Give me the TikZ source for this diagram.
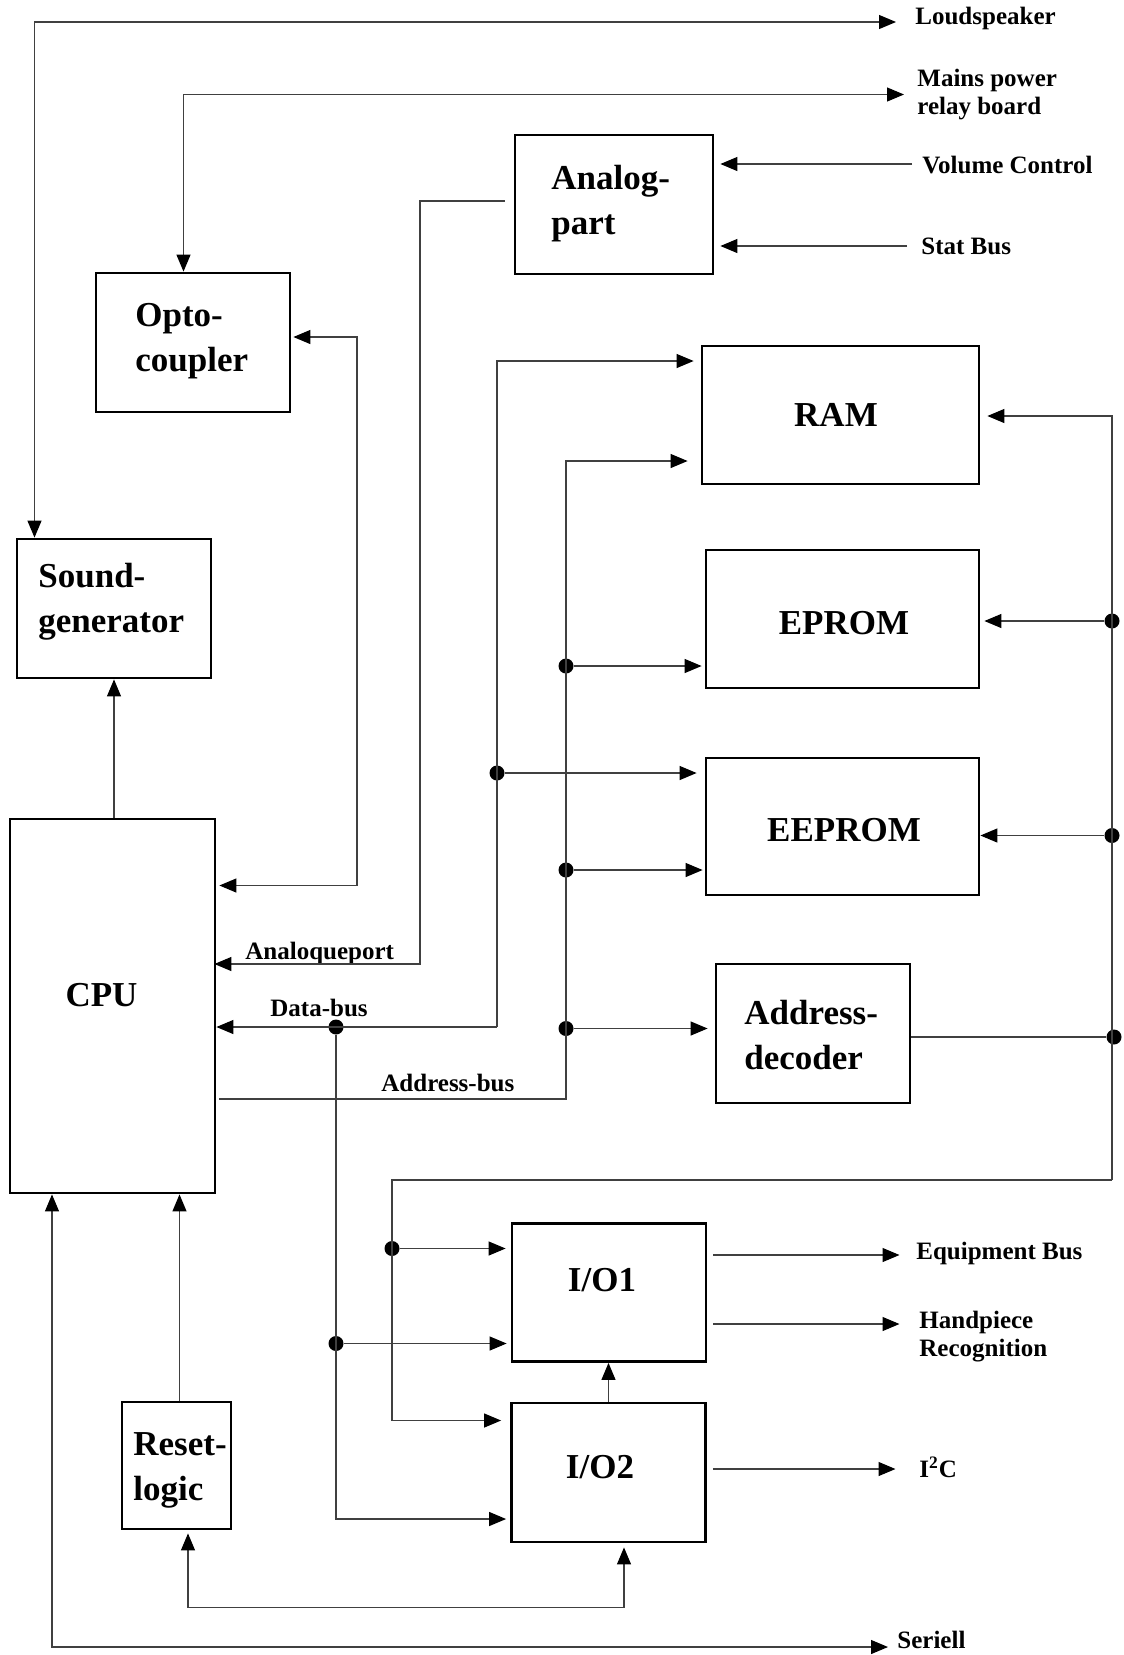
\documentclass[tikz,border=0pt]{standalone}
\usepackage{fontspec}
\setmainfont{Liberation Serif}
\usetikzlibrary{arrows.meta}

\tikzset{
  blk/.style={draw, line width=1.4pt, inner sep=0pt},
  btxt/.style={font=\fontsize{17.5}{22.5}\selectfont\bfseries, inner sep=0pt, align=left},
  stxt/.style={font=\fontsize{12.5}{14}\selectfont\bfseries, inner sep=0pt, align=left, anchor=west},
  wire/.style={draw=black!75, line width=0.6pt},
  arr/.style={-{Triangle[length=8.5pt,width=7pt,color=black]}},
  darr/.style={{Triangle[length=8.5pt,width=7pt,color=black]}-{Triangle[length=8.5pt,width=7pt,color=black]}},
  jdot/.style={circle, fill=black, inner sep=0pt, minimum size=7.5pt},
}

\begin{document}
\begin{tikzpicture}[x=0.5pt,y=-0.5pt]
	\useasboundingbox (0,0) rectangle (1124,1655);
	% blocks
	\node[blk, minimum width=99pt, minimum height=69.5pt] (analog) at (614,204.5) {};
	\node[blk, minimum width=97pt, minimum height=69.5pt] (opto) at (193,342.5) {};
	\node[blk, minimum width=97pt, minimum height=69.5pt] (sound) at (114,608.5) {};
	\node[blk, minimum width=102.5pt, minimum height=187pt] (cpu) at (112.5,1006) {};
	\node[blk, minimum width=138.5pt, minimum height=69pt] (ram) at (840.5,415) {};
	\node[blk, minimum width=136.5pt, minimum height=69pt] (eprom) at (842.5,619) {};
	\node[blk, minimum width=136.5pt, minimum height=68.5pt] (eeprom) at (842.5,826.5) {};
	\node[blk, minimum width=97pt, minimum height=69.5pt] (addr) at (813,1033.5) {};
	\node[blk, minimum width=97pt, minimum height=69pt] (io1) at (609,1292.5) {};
	\node[blk, minimum width=97pt, minimum height=69.5pt] (io2) at (608.5,1472.5) {};
	\node[blk, minimum width=54.5pt, minimum height=63.5pt] (reset) at (176.5,1465.5) {};
	% block texts
	\node[btxt, anchor=west] (analogt) at (551,204) {Analog-\\part};
	\node[btxt, anchor=west] (optot) at (135,341) {Opto-\\coupler};
	\node[btxt, anchor=west] (soundt) at (38,602) {Sound-\\generator};
	\node[btxt] (cput) at (101.5,995) {CPU};
	\node[btxt] (ramt) at (836,415) {RAM};
	\node[btxt] (epromt) at (844,623) {EPROM};
	\node[btxt] (eepromt) at (844,830) {EEPROM};
	\node[btxt, anchor=west] (addrt) at (744,1035) {Address-\\decoder};
	\node[btxt] (io1t) at (602,1280) {I/O1};
	\node[btxt] (io2t) at (600,1467) {I/O2};
	\node[btxt, anchor=west] (resett) at (133,1470) {Reset-\\logic};
	% outside labels
	\node[stxt] (spkl) at (915,18) {Loudspeaker};
	\node[stxt] (mainsl) at (917,95) {Mains power\\relay board};
	\node[stxt] (voll) at (922,165) {Volume Control};
	\node[stxt] (statl) at (921,246) {Stat Bus};
	\node[stxt] (equl) at (916,1253) {Equipment Bus};
	\node[stxt] (handl) at (919,1336.5) {Handpiece\\Recognition};
	\node[stxt] (i2cl) at (919,1467) {I\textsuperscript{2}C};
	\node[stxt] (serl) at (897,1640) {Seriell};
	\node[stxt] (aportl) at (245,953) {Analoqueport};
	\node[stxt] (datal) at (270,1008) {Data-bus};
	\node[stxt] (addrl) at (381,1083) {Address-bus};
	% bends and free ends
	\coordinate (spkc) at (34.5,22);
	\coordinate (spk) at (896,22);
	\coordinate (mainsc) at (183.5,94.5);
	\coordinate (mains) at (904,94.5);
	\coordinate (vol) at (912,164);
	\coordinate (stat) at (907,246);
	\coordinate (apc) at (420,201);
	\coordinate (apl) at (420,964);
	\coordinate (opc1) at (357,337);
	\coordinate (opc2) at (357,885.5);
	\coordinate (serc) at (52,1647);
	\coordinate (ser) at (888,1647);
	\coordinate (rsc1) at (188,1607.5);
	\coordinate (rsc2) at (624,1607.5);
	\coordinate (equ) at (899.5,1255);
	\coordinate (hand) at (899.5,1324);
	\coordinate (i2c) at (895.5,1469);
	\coordinate (dbc) at (497,1027);
	\coordinate (dbt) at (497,361);
	\coordinate (dbb) at (336,1519);
	\coordinate (abc) at (566,1099);
	\coordinate (abt) at (566,461);
	\coordinate (csa) at (1112,416);
	\coordinate (csb) at (1112,1180);
	\coordinate (csc) at (392,1180);
	\coordinate (csd) at (392,1420.5);
	% junctions
	\node[jdot] (dbj1) at (336,1027) {};
	\node[jdot] (dbj2) at (497,773) {};
	\node[jdot] (dbj3) at (336,1343.5) {};
	\node[jdot] (abj1) at (566,666) {};
	\node[jdot] (abj2) at (566,870) {};
	\node[jdot] (abj3) at (566,1028.5) {};
	\node[jdot] (csj1) at (1112,621) {};
	\node[jdot] (csj2) at (1112,835.5) {};
	\node[jdot] (csj3) at (1114,1037) {};
	\node[jdot] (csj4) at (392,1248.5) {};
	% top lines
	\draw[wire,darr] (sound.north -| spkc) -- (spkc) -- (spk);
	\draw[wire,darr] (opto.north -| mainsc) -- (mainsc) -- (mains);
	\draw[wire,arr,shorten >=3pt] (vol) -- (analog.east |- vol);
	\draw[wire,arr,shorten >=3pt] (stat) -- (analog.east |- stat);
	\draw[wire,arr,shorten <=4.5pt,shorten >=-1pt] (analog.west |- apc) -- (apc) -- (apl) -- (cpu.east |- apl);
	\draw[wire,darr,shorten <=1pt,shorten >=1.5pt] (opto.east |- opc1) -- (opc1) -- (opc2) -- (cpu.east |- opc2);
	\draw[wire,arr] (cpu.north -| sound.south) -- (sound.south);
	% data bus
	\draw[wire,arr] (dbc) -- (cpu.east |- dbc);
	\draw[wire,arr,shorten >=3.5pt] (dbc) -- (dbt) -- (ram.west |- dbt);
	\draw[wire,arr,shorten >=4pt] (dbj2) -- (eeprom.west |- dbj2);
	\draw[wire,arr,shorten >=2pt] (dbj1) -- (dbb) -- (io2.west |- dbb);
	\draw[wire,arr,shorten >=2pt] (dbj3) -- (io1.west |- dbj3);
	% address bus
	\draw[wire,arr,shorten <=1.5pt,shorten >=6.5pt] (cpu.east |- abc) -- (abc) -- (abt) -- (ram.west |- abt);
	\draw[wire,arr,shorten >=1.5pt] (abj1) -- (eprom.west |- abj1);
	\draw[wire,arr,shorten >=1pt] (abj2) -- (eeprom.west |- abj2);
	\draw[wire,arr,shorten >=3.5pt] (abj3) -- (addr.west |- abj3);
	% chip select
	\draw[wire,arr,shorten >=3.5pt] (csb) -- (csa) -- (ram.east |- csa);
	\draw[wire,arr,shorten >=4.5pt] (csb) -- (csc) -- (csd) -- (io2.west |- csd);
	\draw[wire,arr,shorten >=2pt] (csj1) -- (eprom.east |- csj1);
	\draw[wire,arr] (csj2) -- (eeprom.east |- csj2);
	\draw[wire] (addr.east |- csj3) -- (csj3);
	\draw[wire,arr,shorten >=2.5pt] (csj4) -- (io1.west |- csj4);
	% lower part
	\draw[wire,arr] ([xshift=1.5pt]reset.north) -- ([xshift=1.5pt]reset.north |- cpu.south);
	\draw[wire,darr] (cpu.south -| serc) -- (serc) -- (ser);
	\draw[wire,darr,shorten <=1.5pt,shorten >=2pt] (reset.south -| rsc1) -- (rsc1) -- (rsc2) -- (io2.south -| rsc2);
	\draw[wire,arr] (io2.north) -- (io2.north |- io1.south);
	\draw[wire,arr,shorten <=3pt] (io1.east |- equ) -- (equ);
	\draw[wire,arr,shorten <=3pt] (io1.east |- hand) -- (hand);
	\draw[wire,arr,shorten <=3pt] (io2.east |- i2c) -- (i2c);
\end{tikzpicture}
\end{document}
